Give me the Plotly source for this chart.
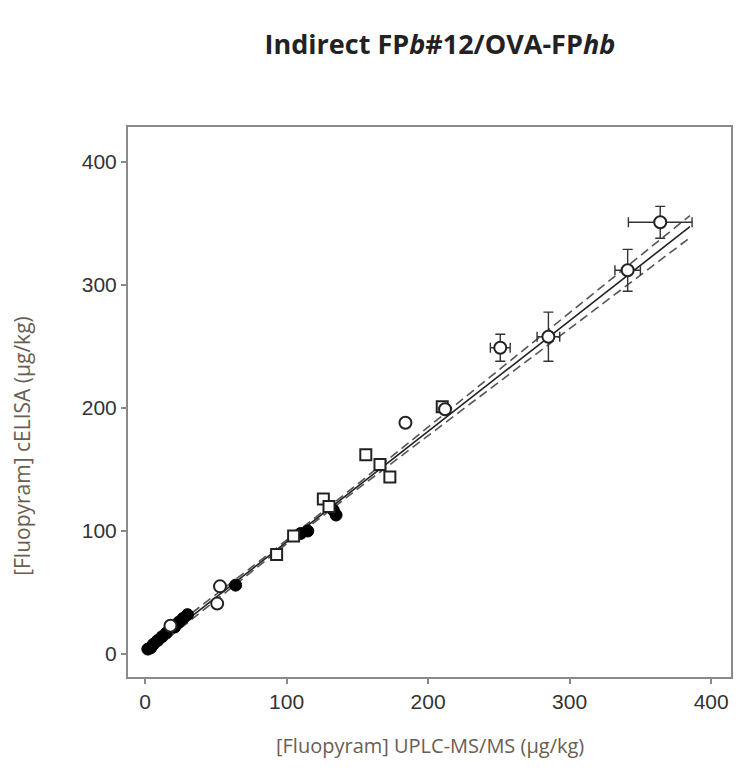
import plotly.graph_objects as go

# Open circles (with error bars on the high concentration samples)
circ_x = [364, 341, 285, 251, 212, 184, 53, 51, 18]
circ_y = [351, 312, 258, 249, 199, 188, 55, 41, 23]
circ_xerr = [22.5, 9, 8, 7, 0, 0, 0, 0, 0]
circ_yerr = [13, 17, 20, 11, 0, 0, 0, 0, 0]

# Open squares
sq_x = [156, 166, 173, 126, 130, 105, 93, 210]
sq_y = [162, 154, 144, 126, 120, 96, 81, 201]

# Filled circles
fill_x = [135, 133, 115, 110, 64, 30, 27, 24, 21, 15, 12, 9, 6, 4, 2]
fill_y = [113, 117, 100, 98, 56, 32, 29, 26, 22, 17, 14, 11, 8, 5, 4]

# Regression line and confidence bands
fit_x = [2, 385]
fit_y = [2.8, 347.5]
band_x = [2, 50, 100, 150, 200, 250, 300, 350, 385]
band_upper = [5.8, 48.0, 92.5, 138.0, 184.5, 231.0, 277.5, 324.0, 356.5]
band_lower = [-0.2, 44.0, 89.5, 134.0, 177.5, 221.0, 264.5, 308.0, 338.5]

fig = go.Figure()

fig.add_trace(go.Scatter(x=band_x, y=band_upper, mode="lines",
                         line=dict(color="#555555", width=1.6, dash="9px,5px")))
fig.add_trace(go.Scatter(x=band_x, y=band_lower, mode="lines",
                         line=dict(color="#555555", width=1.6, dash="9px,5px")))
fig.add_trace(go.Scatter(x=fit_x, y=fit_y, mode="lines",
                         line=dict(color="#222222", width=1.6)))

fig.add_trace(go.Scatter(x=fill_x, y=fill_y, mode="markers",
                         marker=dict(symbol="circle", size=12, color="black",
                                     line=dict(color="black", width=1))))
fig.add_trace(go.Scatter(x=sq_x, y=sq_y, mode="markers",
                         marker=dict(symbol="square", size=11, color="white",
                                     line=dict(color="#222", width=2))))
fig.add_trace(go.Scatter(x=circ_x, y=circ_y, mode="markers",
                         error_x=dict(type="data", array=circ_xerr, color="#333", thickness=1.4, width=5),
                         error_y=dict(type="data", array=circ_yerr, color="#333", thickness=1.4, width=5),
                         marker=dict(symbol="circle", size=12, color="white",
                                     line=dict(color="#222", width=2))))

axis_common = dict(
    showgrid=False, zeroline=False, showline=True, mirror=True,
    linecolor="#8a8a8a", linewidth=2, ticks="outside", ticklen=5,
    tickcolor="#8a8a8a", tickwidth=1.5,
    tickfont=dict(family="Liberation Sans, Arial, sans-serif", size=21, color="#333333"),
)

fig.update_layout(
    width=746, height=779,
    margin=dict(l=120, r=23, t=119, b=110),
    paper_bgcolor="white", plot_bgcolor="white",
    showlegend=False,
    title=dict(text="<b>Indirect FP<i>b</i>#12/OVA-FP<i>hb</i></b>",
               x=0.579, xanchor="center", y=0.9525, yanchor="middle",
               font=dict(family="Open Sans, sans-serif", size=27, color="#222222")),
    xaxis=dict(range=[-12, 414], tickvals=[0, 100, 200, 300, 400], **axis_common),
    yaxis=dict(range=[-18.7, 428.5], tickvals=[0, 100, 200, 300, 400], **axis_common),
    annotations=[
        dict(text="[Fluopyram] UPLC-MS/MS (µg/kg)", xref="paper", yref="paper",
             x=0.5, y=-0.124, xanchor="center", yanchor="middle", showarrow=False,
             font=dict(family="Open Sans, sans-serif", size=20, color="#6a5d52")),
        dict(text="[Fluopyram] cELISA (µg/kg)", xref="paper", yref="paper",
             x=-0.176, y=0.42, xanchor="center", yanchor="middle", showarrow=False,
             textangle=-90,
             font=dict(family="Open Sans, sans-serif", size=21, color="#6a5d52")),
    ],
)

fig.write_html("out.html")
